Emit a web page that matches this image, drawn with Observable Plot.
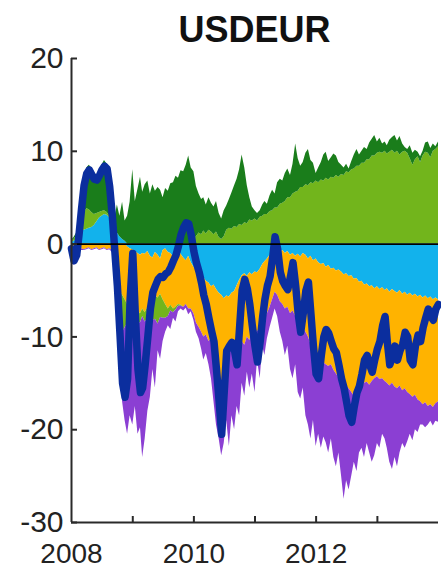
<!DOCTYPE html>
<html>
<head>
<meta charset="utf-8">
<script src="https://cdn.jsdelivr.net/npm/d3@7"></script>
<script src="https://cdn.jsdelivr.net/npm/@observablehq/plot@0.6"></script>
<style>
  body { margin: 0; background: #fff; }
  #title {
    box-sizing: border-box; height: 44px; padding: 12px 3px 0 71px;
    font: bold 36px/36px "Liberation Sans", Arial, sans-serif;
    text-align: center; color: #111;
  }
  #chart svg { overflow: visible; }
</style>
</head>
<body>
<div id="title">USDEUR</div>
<div id="chart"></div>
<script>
// Semi-monthly observations, 1 Jan 2008 .. 1 Jan 2014 (145 points)
const dates = d3.range(145).map(i =>
  new Date(Date.UTC(2008 + Math.floor(i / 24), Math.floor(i / 2) % 12, i % 2 ? 16 : 1)));

// Contributions to the USDEUR move, in percent
const compA = [0.2,0.3,0.5,1.0,1.4,1.5,1.6,1.7,1.8,2.0,2.4,2.8,3.0,3.2,3.1,2.8,2.2,1.6,1.2,0.8,0.5,0.3,
  -0.3,-0.5,
  -0.6,-0.8,-1.0,-1.2,-1.0,-1.1,-0.8,-1.3,-1.5,-0.9,-1.2,-1.6,-0.7,-0.5,-0.9,-1.0,-1.4,-0.8,-0.6,-1.1,-1.5,-1.8,-1.3,-2.0,
  -2.5,-2.9,-3.2,-3.5,-3.6,-4.0,-4.2,-4.6,-4.4,-4.9,-5.3,-5.5,-5.9,-5.6,-5.7,-5.3,-5.1,-4.5,-3.9,-3.4,-3.2,-3.5,-3.1,-3.3,
  -3.0,-3.1,-2.7,-2.2,-1.9,-1.6,-1.2,-1.0,-0.8,-0.6,-0.9,-0.7,-1.0,-0.8,-1.2,-1.0,-1.3,-1.1,-1.4,-1.0,-1.2,-1.6,-1.3,-1.8,
  -1.6,-2.0,-2.2,-2.1,-2.5,-2.3,-2.7,-2.6,-2.9,-2.8,-3.0,-3.3,-3.2,-3.5,-3.4,-3.8,-3.7,-4.1,-4.0,-4.4,-4.3,-4.6,-4.5,-4.8,
  -4.6,-4.9,-4.7,-5.0,-4.8,-5.2,-4.9,-5.1,-5.3,-5.0,-5.4,-5.2,-5.5,-5.3,-5.6,-5.4,-5.7,-5.5,-5.8,-5.6,-5.9,-5.7,-6.0,-5.8,-6.0];

const compB = [-0.3,-0.4,-0.5,-0.5,-0.5,-0.6,-0.5,-0.4,-0.6,-0.5,-0.4,-0.6,-0.5,-0.4,-0.6,-0.5,-0.7,
  -2.0,-3.5,-5.0,-5.5,-6.0,-6.2,-5.0,
  -4.4,-5.2,-6.2,-6.3,-6.0,-6.3,-6.0,-4.7,-4.8,-4.7,-4.6,-3.8,-5.3,-6.0,-6.1,-5.6,-5.6,-6.0,-5.9,-5.5,-5.3,-4.7,-5.7,-5.0,
  -5.0,-5.6,-5.8,-6.0,-6.4,-5.8,-6.3,-5.6,-6.6,-8.1,-9.7,-10.0,-7.1,-5.9,-6.3,-5.7,-5.4,-6.7,-6.9,-7.1,-7.7,-6.5,-7.3,-6.2,
  -7.2,-6.2,-6.9,-6.3,-6.1,-5.9,-5.6,-5.0,-4.4,-4.9,-5.3,-5.8,-6.0,-6.0,-6.3,-6.2,-6.5,-7.1,-7.2,-8.0,-8.3,-8.4,-9.5,-9.2,
  -9.9,-10.0,-10.3,-10.7,-10.5,-10.9,-10.3,-11.0,-11.1,-11.6,-11.8,-11.9,-12.1,-12.1,-12.6,-12.6,-12.8,-11.9,-11.5,-10.6,-10.6,-10.6,-10.3,-9.7,
  -9.7,-9.7,-9.8,-9.8,-10.2,-10.1,-10.1,-10.3,-10.3,-10.3,-10.4,-10.4,-10.5,-10.9,-10.9,-10.9,-11.1,-11.5,-11.5,-11.5,-11.6,-11.6,-11.6,-11.4,-11.0];

const compC = [0.1,0.2,0.4,0.8,1.2,1.8,2.2,2.0,1.6,1.2,0.9,0.6,0.5,0.4,0.3,0.2,0.1,
  0,0,
  -3.0,-4.0,-3.0,-2.0,-1.5,-1.0,-0.8,-1.2,-1.0,-0.8,-1.0,-1.2,-1.5,-2.0,-2.5,-2.8,-2.5,-2.0,-1.5,-0.8,-0.6,-0.4,-0.3,-0.2,-0.1,
  0,0,0,0,
  0.5,0.8,1.2,1.0,1.4,1.1,1.5,1.3,1.0,1.3,0.7,0.5,0.8,1.5,1.7,1.6,1.9,1.8,2.1,2.0,2.3,2.2,2.6,2.5,
  2.7,2.5,2.9,3.0,3.2,3.2,3.5,3.6,3.9,3.9,4.3,4.4,4.6,5.0,5.0,5.4,5.6,5.7,6.1,6.1,6.4,6.3,6.6,6.5,
  6.8,6.6,6.9,6.8,7.1,6.9,7.2,7.1,7.4,7.2,7.5,7.4,7.8,7.7,8.0,8.1,8.4,8.4,8.7,8.7,9.1,9.1,9.5,9.5,
  9.8,9.9,9.8,10.0,9.7,9.9,10.1,9.8,10.0,9.6,9.9,10.0,9.8,9.2,8.5,9.1,9.4,8.8,9.5,9.9,9.8,9.3,10.0,10.2,10.5];

const compD = [0.1,0.2,0.3,0.6,1.6,3.9,4.4,4.8,4.8,4.5,4.1,4.5,5.0,5.4,5.2,3.6,1.4,
  1.2,3.0,2.2,4.0,2.2,3.0,4.5,
  8.0,4.6,5.9,7.2,5.6,6.4,6.8,5.4,6.4,5.7,6.1,5.8,5.0,6.0,5.7,6.5,6.6,7.3,7.1,7.9,7.8,8.5,9.5,8.2,
  7.3,5.4,4.2,3.8,3.6,3.1,3.5,3.1,3.0,3.3,2.6,2.2,2.8,2.6,3.1,3.9,4.4,5.2,5.9,7.6,5.9,4.1,2.4,1.5,
  0.9,0.8,0.7,1.2,1.4,1.1,1.7,2.2,1.5,2.7,2.7,2.4,3.0,3.1,2.4,3.2,5.2,3.5,2.3,2.7,3.4,3.9,2.4,2.2,
  0.8,1.6,1.9,2.8,2.8,2.0,2.1,2.6,2.1,1.6,1.0,0.8,0.8,0.4,0.9,1.5,1.8,1.2,1.3,1.7,1.1,1.8,1.8,2.2,
  1.2,1.5,1.0,1.0,0.9,1.3,1.4,1.9,1.1,2.0,0.9,0.4,0.4,1.4,1.3,1.0,0.5,0.6,0.5,1.0,1.2,1.0,0.8,0.3,0.5];

const compE = [-0.4,-1.9,-1.3,-0.4,-0.2,-0.1,-0.1,-0.1,-0.1,-0.1,-0.1,-0.1,-0.1,-0.1,-0.1,-0.1,-0.2,
  -0.3,-1.5,-3.0,-7.5,-10.0,-12.0,-11.5,
  -13.5,-10.7,-12.1,-11.3,-15.2,-12.6,-10.0,-9.0,-5.2,-7.4,-2.9,-4.5,-2.5,-1.5,-1.0,-2.0,-0.6,-1.3,-0.6,-0.3,-0.4,-0.4,-0.6,-0.3,
  -0.7,-1.0,-1.2,-1.8,-2.5,-2.0,-2.5,-4.3,-6.0,-6.5,-6.0,-7.3,-8.5,-7.5,-9.8,-7.5,-9.5,-6.3,-7.7,-4.5,-5.5,-3.8,-5.1,-4.5,
  -5.8,-3.2,-4.9,-2.5,-4.0,-2.7,-2.2,-2.0,-1.8,-2.3,-3.3,-4.0,-5.0,-4.2,-6.0,-7.3,-5.2,-7.8,-8.1,-6.5,-9.0,-9.5,-10.2,-8.0,
  -10.3,-8.5,-9.5,-8.0,-8.4,-9.3,-8.0,-9.4,-10.0,-8.1,-10.2,-12.3,-10.2,-10.9,-9.0,-7.1,-8.0,-6.5,-6.5,-8.0,-6.6,-7.3,-8.7,-8.3,
  -7.2,-7.4,-6.0,-6.2,-7.0,-8.2,-9.3,-7.6,-8.4,-7.2,-5.7,-6.4,-5.3,-4.3,-4.7,-3.7,-3.5,-2.5,-2.2,-2.7,-2.0,-1.8,-2.0,-1.9,-2.2];

// Total change of the exchange rate, in percent
const total = [-0.5,-1.8,-1.2,1.2,3.8,6.3,7.6,8.0,7.5,7.0,6.9,7.4,8.0,8.4,8.1,6.2,3.0,-0.8,-4.5,-9.5,-15.0,-16.5,-14.5,-6.0,
  -1.0,-7.5,-13.5,-16.0,-15.5,-13.0,-10.0,-7.0,-5.2,-4.5,-3.8,-3.5,-3.6,-3.2,-3.0,-2.5,-1.8,-1.2,-0.2,1.0,1.8,2.3,2.2,1.0,
  -0.8,-2.0,-3.0,-4.2,-5.5,-6.5,-8.0,-9.3,-10.5,-13.5,-17.0,-20.5,-16.0,-11.5,-11.0,-10.6,-11.5,-13.0,-9.0,-5.0,-3.8,-4.8,-6.5,-8.8,
  -11.0,-12.7,-10.5,-7.8,-6.0,-4.5,-3.5,-1.5,0.8,-0.5,-3.0,-4.0,-4.5,-4.9,-3.5,-2.0,-4.5,-7.5,-9.5,-7.5,-5.0,-4.1,-7.5,-11.0,
  -14.0,-14.5,-12.0,-10.0,-9.2,-9.6,-10.5,-11.3,-11.7,-13.0,-14.5,-15.5,-17.0,-18.5,-19.2,-17.5,-16.0,-15.3,-14.0,-12.5,-12.0,-13.0,-13.8,-12.5,
  -11.3,-10.5,-8.8,-7.8,-10.5,-13.0,-12.2,-11.0,-12.5,-11.5,-10.8,-9.5,-10.0,-12.5,-13.0,-11.0,-9.8,-10.5,-9.0,-8.0,-7.0,-7.8,-8.2,-7.0,-6.5];

const yTicks = [-30, -20, -10, 0, 10, 20];
const xTickYears = [2009, 2010, 2011, 2012, 2013];
const xLabelYears = [2008, 2010, 2012];

const layerNames = ["A", "B", "C", "D", "E"];
const layerValues = [compA, compB, compC, compD, compE];
const layerColors = ["#12b2ec", "#ffb300", "#72b51c", "#1a7d1b", "#8b3fd3"];

// Diverging stack: positive parts pile up from zero, negative parts pile down
const bands = [];
dates.forEach((date, i) => {
  let up = 0, down = 0;
  layerNames.forEach((name, k) => {
    const v = layerValues[k][i];
    const pos = Math.max(v, 0), neg = Math.min(v, 0);
    bands.push({date, name, group: name + "+", y1: up, y2: (up += pos)});
    bands.push({date, name, group: name + "-", y1: down, y2: (down += neg)});
  });
});
const totalRows = dates.map((date, i) => ({date, value: total[i]}));

const yearDate = y => new Date(Date.UTC(y, 0, 1));
const axisColor = "#2a2a2a";
const plotW = 441 - 71 - 3, plotH = 526 - 14 - 48;

const chart = Plot.plot({
  width: 441, height: 526,
  marginTop: 14, marginBottom: 48, marginLeft: 71, marginRight: 3,
  style: {fontFamily: "'Liberation Sans', Arial, sans-serif", fontSize: "30px", color: "#222", background: "#fff"},
  x: {type: "utc", domain: [dates[0], dates[dates.length - 1]]},
  y: {domain: [-30, 20]},
  color: {type: "ordinal", domain: layerNames, range: layerColors},
  marks: [
    Plot.areaY(bands, {x: "date", y1: "y1", y2: "y2", z: "group", fill: "name"}),
    Plot.line(totalRows, {x: "date", y: "value", stroke: "#0b2e9e", strokeWidth: 7.5,
      strokeLinejoin: "round", strokeLinecap: "round"}),
    Plot.ruleY([0], {stroke: "#000", strokeWidth: 1.6}),
    Plot.ruleX([dates[0]], {y1: -30, y2: 20, stroke: axisColor, strokeWidth: 2}),
    Plot.ruleY([-30], {stroke: axisColor, strokeWidth: 2}),
    Plot.tickY(yTicks, {stroke: axisColor, strokeWidth: 2, insetRight: plotW - 6}),
    Plot.tickX(xTickYears.map(yearDate), {stroke: axisColor, strokeWidth: 2, insetTop: plotH - 6}),
    Plot.axisY({ticks: yTicks, tickSize: 0, tickPadding: 8, fontSize: 30, label: null,
      tickFormat: d => String(d)}),
    Plot.axisX({ticks: xLabelYears.map(yearDate), tickSize: 0, tickPadding: 21, fontSize: 28,
      tickFormat: d3.utcFormat("%Y"), label: null})
  ]
});
document.getElementById("chart").append(chart);
</script>
</body>
</html>
